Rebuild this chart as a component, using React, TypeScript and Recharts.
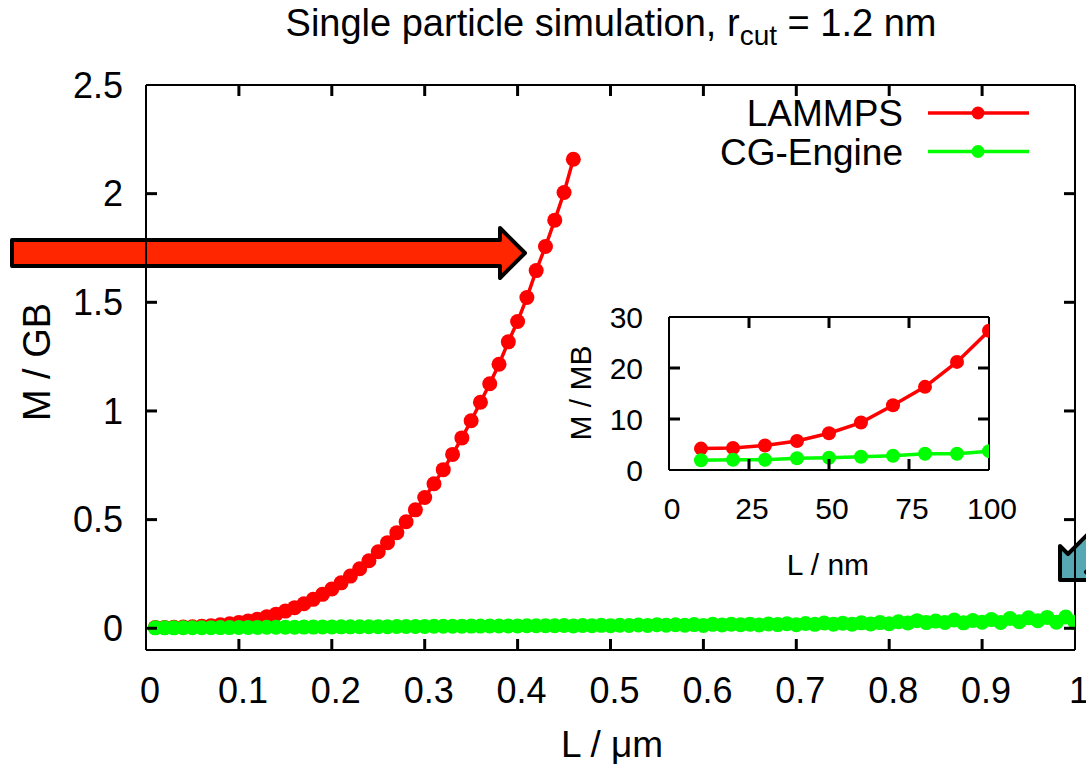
import React from 'react';
import { LineChart, Line, XAxis, YAxis, ReferenceLine } from 'recharts';

// main plot: box length L in micrometres (0.01 step, as plotted)
const lengthsUm = [
  0.01, 0.02, 0.03, 0.04, 0.05, 0.06, 0.07, 0.08, 0.09, 0.1,
  0.11, 0.12, 0.13, 0.14, 0.15, 0.16, 0.17, 0.18, 0.19, 0.2,
  0.21, 0.22, 0.23, 0.24, 0.25, 0.26, 0.27, 0.28, 0.29, 0.3,
  0.31, 0.32, 0.33, 0.34, 0.35, 0.36, 0.37, 0.38, 0.39, 0.4,
  0.41, 0.42, 0.43, 0.44, 0.45, 0.46, 0.47, 0.48, 0.49, 0.5,
  0.51, 0.52, 0.53, 0.54, 0.55, 0.56, 0.57, 0.58, 0.59, 0.6,
  0.61, 0.62, 0.63, 0.64, 0.65, 0.66, 0.67, 0.68, 0.69, 0.7,
  0.71, 0.72, 0.73, 0.74, 0.75, 0.76, 0.77, 0.78, 0.79, 0.8,
  0.81, 0.82, 0.83, 0.84, 0.85, 0.86, 0.87, 0.88, 0.89, 0.9,
  0.91, 0.92, 0.93, 0.94, 0.95, 0.96, 0.97, 0.98, 0.99, 1.0,
];

// memory in GB, LAMMPS stops at 0.46 um
const lammpsGB = [
  0.004, 0.004, 0.005, 0.006, 0.007, 0.009, 0.012, 0.016, 0.021, 0.027,
  0.034, 0.042, 0.053, 0.065, 0.079, 0.095, 0.113, 0.133, 0.156, 0.181,
  0.209, 0.24, 0.274, 0.311, 0.352, 0.394, 0.44, 0.49, 0.545, 0.602,
  0.665, 0.73, 0.8, 0.876, 0.955, 1.04, 1.125, 1.215, 1.318, 1.412,
  1.522, 1.646, 1.757, 1.878, 2.005, 2.158,
];

const cgEngineGB = [
  0.0019, 0.002, 0.002, 0.0023, 0.0024, 0.0026, 0.0028, 0.0032, 0.0032, 0.0037,
  0.004, 0.004, 0.0045, 0.0045, 0.005, 0.005, 0.0055, 0.0055, 0.006, 0.006,
  0.0065, 0.0065, 0.007, 0.007, 0.0075, 0.0075, 0.008, 0.008, 0.0085, 0.0085,
  0.009, 0.009, 0.0095, 0.0095, 0.01, 0.01, 0.0105, 0.0105, 0.011, 0.011,
  0.0115, 0.0115, 0.012, 0.012, 0.0125, 0.011, 0.013, 0.012, 0.0135, 0.012,
  0.014, 0.013, 0.015, 0.013, 0.016, 0.014, 0.016, 0.014, 0.017, 0.013,
  0.018, 0.015, 0.019, 0.016, 0.019, 0.015, 0.02, 0.017, 0.021, 0.016,
  0.022, 0.018, 0.024, 0.019, 0.023, 0.019, 0.025, 0.02, 0.026, 0.021,
  0.03, 0.024, 0.035, 0.026, 0.033, 0.027, 0.038, 0.025, 0.036, 0.028,
  0.04, 0.027, 0.045, 0.03, 0.048, 0.035, 0.05, 0.028, 0.052, 0.027,
];

// inset: L in nm, memory in MB
const insetLengthsNm = [10, 20, 30, 40, 50, 60, 70, 80, 90, 100];
const insetLammpsMB = [4.2, 4.3, 4.8, 5.7, 7.2, 9.3, 12.7, 16.3, 21.2, 27.3];
const insetCgEngineMB = [1.9, 2.0, 2.0, 2.3, 2.4, 2.6, 2.8, 3.2, 3.2, 3.7];

const xTicks = [0, 0.1, 0.2, 0.3, 0.4, 0.5, 0.6, 0.7, 0.8, 0.9, 1];
const yTicks = [0, 0.5, 1, 1.5, 2, 2.5];
const insetXTicks = [0, 25, 50, 75, 100];
const insetYTicks = [0, 10, 20, 30];

const seriesNames = ['LAMMPS', 'CG-Engine'];
const seriesColors = ['#ff0000', '#00ff00'];

const lammpsData = lammpsGB.map((m, i) => ({ l: lengthsUm[i], m }));
const cgData = cgEngineGB.map((m, i) => ({ l: lengthsUm[i], m }));
const insetLammpsData = insetLammpsMB.map((m, i) => ({ l: insetLengthsNm[i], m }));
const insetCgData = insetCgEngineMB.map((m, i) => ({ l: insetLengthsNm[i], m }));

const font = '"Liberation Sans", Arial, Helvetica, sans-serif';

// plot boxes (page pixels) -- the chart margins below are derived from these
const mainBox = { left: 146, right: 1075, top: 85, bottom: 650 };
const insetBox = { left: 669, right: 989, top: 317, bottom: 470 };
const insetOrigin = { left: 560, top: 290, width: 460, height: 300 };
const mainX = [0, 1];
const mainY = [-0.1, 2.5];
const insetX = [0, 100];
const insetY = [0, 30];
const TICK = 11;

// inward gnuplot tick marks on all four sides of a plot box
const BoxTicks = ({ box, xd, yd, xt, yt }: any) => {
  const sx = (v: number) => box.left + ((v - xd[0]) / (xd[1] - xd[0])) * (box.right - box.left);
  const sy = (v: number) => box.bottom - ((v - yd[0]) / (yd[1] - yd[0])) * (box.bottom - box.top);
  const inX = xt.filter((t: number) => t > xd[0] && t < xd[1]);
  const inY = yt.filter((v: number) => v > yd[0] && v < yd[1]);
  return (
    <g>
      {inX.map((t: number) => (
        <g key={`x${t}`}>
          <line x1={sx(t)} x2={sx(t)} y1={box.bottom} y2={box.bottom - TICK} stroke="#000" strokeWidth={3} />
          <line x1={sx(t)} x2={sx(t)} y1={box.top} y2={box.top + TICK} stroke="#000" strokeWidth={3} />
        </g>
      ))}
      {inY.map((v: number) => (
        <g key={`y${v}`}>
          <line x1={box.left} x2={box.left + TICK} y1={sy(v)} y2={sy(v)} stroke="#000" strokeWidth={3} />
          <line x1={box.right} x2={box.right - TICK} y1={sy(v)} y2={sy(v)} stroke="#000" strokeWidth={3} />
        </g>
      ))}
    </g>
  );
};

const Background = () => (
  <svg
    width={1086}
    height={765}
    style={{ position: 'absolute', left: 0, top: 0 }}
    fontFamily={font}
  >
    <text x={611} y={36} textAnchor="middle" fontSize={38} fill="#000">
      Single particle simulation, r
      <tspan dy={9} fontSize={28}>cut</tspan>
      <tspan dy={-9}> = 1.2 nm</tspan>
    </text>
    <text
      transform="translate(37,362) rotate(-90)"
      textAnchor="middle"
      dominantBaseline="central"
      fontSize={38}
      fill="#000"
    >
      M / GB
    </text>
    <text x={612} y={757} textAnchor="middle" fontSize={37} fill="#000">
      L / μm
    </text>
    <text
      transform="translate(580,393) rotate(-90)"
      textAnchor="middle"
      dominantBaseline="central"
      fontSize={30}
      fill="#000"
    >
      M / MB
    </text>
    <text x={828} y={575} textAnchor="middle" fontSize={30} fill="#000">
      L / nm
    </text>

    {/* legend */}
    {seriesNames.map((name, i) => {
      const y = 113 + i * 38.5;
      return (
        <g key={name}>
          <text x={903} y={y + 13} textAnchor="end" fontSize={37} fill="#000">
            {name}
          </text>
          <line x1={928} x2={1029} y1={y} y2={y} stroke={seriesColors[i]} strokeWidth={3.5} />
          <circle cx={978} cy={y} r={6.5} fill={seriesColors[i]} />
        </g>
      );
    })}

    {/* annotation arrows */}
    <polygon
      points="12,240 500,240 500,228 525,253 500,278 500,266 12,266"
      fill="#ff2600"
      stroke="#000"
      strokeWidth={4}
      strokeLinejoin="round"
    />
    <polygon
      points="1060,580 1060,546 1068,554 1168,454 1186,472 1086,572 1094,580"
      fill="#56a9b3"
      stroke="#000"
      strokeWidth={4}
      strokeLinejoin="round"
    />
  </svg>
);

const TickLayer = () => (
  <svg width={1086} height={765} style={{ position: 'absolute', left: 0, top: 0, pointerEvents: 'none' }}>
    <BoxTicks box={mainBox} xd={mainX} yd={mainY} xt={xTicks} yt={yTicks} />
    <BoxTicks box={insetBox} xd={insetX} yd={insetY} xt={insetXTicks} yt={insetYTicks} />
  </svg>
);

const axisProps = {
  stroke: '#000',
  strokeWidth: 2,
  allowDataOverflow: true,
  tickLine: false,
  tickSize: 0,
};

const frame = (xd: number[], yd: number[]) => [
  <ReferenceLine key="top" segment={[{ x: xd[0], y: yd[1] }, { x: xd[1], y: yd[1] }]} stroke="#000" strokeWidth={2} ifOverflow="visible" />,
  <ReferenceLine key="right" segment={[{ x: xd[1], y: yd[0] }, { x: xd[1], y: yd[1] }]} stroke="#000" strokeWidth={2} ifOverflow="visible" />,
];

export default function App() {
  return (
    <div style={{ position: 'absolute', left: 0, top: 0, width: 1086, height: 765, background: '#fff' }}>
      <Background />
      <div style={{ position: 'absolute', left: 0, top: 0 }}>
        <LineChart
          width={1086}
          height={765}
          margin={{ top: mainBox.top, right: 1086 - mainBox.right, bottom: 0, left: 0 }}
        >
          <XAxis
            {...axisProps}
            dataKey="l"
            type="number"
            domain={mainX}
            ticks={xTicks}
            height={765 - mainBox.bottom}
            tickMargin={27}
            tick={{ fill: '#000', fontSize: 36, fontFamily: font, dx: 4 }}
          />
          <YAxis
            {...axisProps}
            type="number"
            domain={mainY}
            ticks={yTicks}
            width={mainBox.left}
            tickMargin={23}
            tick={{ fill: '#000', fontSize: 36, fontFamily: font }}
          />
          {frame(mainX, mainY)}
          <Line
            data={lammpsData}
            dataKey="m"
            stroke={seriesColors[0]}
            strokeWidth={3.5}
            dot={{ r: 7.5, fill: seriesColors[0], stroke: 'none' }}
            isAnimationActive={false}
          />
          <Line
            data={cgData}
            dataKey="m"
            stroke={seriesColors[1]}
            strokeWidth={3.5}
            dot={{ r: 7.5, fill: seriesColors[1], stroke: 'none' }}
            isAnimationActive={false}
          />
        </LineChart>
      </div>
      <div style={{ position: 'absolute', left: insetOrigin.left, top: insetOrigin.top }}>
        <LineChart
          width={insetOrigin.width}
          height={insetOrigin.height}
          margin={{
            top: insetBox.top - insetOrigin.top,
            right: insetOrigin.left + insetOrigin.width - insetBox.right,
            bottom: 0,
            left: 0,
          }}
        >
          <XAxis
            {...axisProps}
            dataKey="l"
            type="number"
            domain={insetX}
            ticks={insetXTicks}
            height={insetOrigin.top + insetOrigin.height - insetBox.bottom}
            tickMargin={28}
            tick={{ fill: '#000', fontSize: 30, fontFamily: font, dx: 3 }}
          />
          <YAxis
            {...axisProps}
            type="number"
            domain={insetY}
            ticks={insetYTicks}
            width={insetBox.left - insetOrigin.left}
            tickMargin={26}
            tick={{ fill: '#000', fontSize: 30, fontFamily: font }}
          />
          {frame(insetX, insetY)}
          <Line
            data={insetLammpsData}
            dataKey="m"
            stroke={seriesColors[0]}
            strokeWidth={3.5}
            dot={{ r: 7, fill: seriesColors[0], stroke: 'none' }}
            isAnimationActive={false}
          />
          <Line
            data={insetCgData}
            dataKey="m"
            stroke={seriesColors[1]}
            strokeWidth={3.5}
            dot={{ r: 7, fill: seriesColors[1], stroke: 'none' }}
            isAnimationActive={false}
          />
        </LineChart>
      </div>
      <TickLayer />
    </div>
  );
}
